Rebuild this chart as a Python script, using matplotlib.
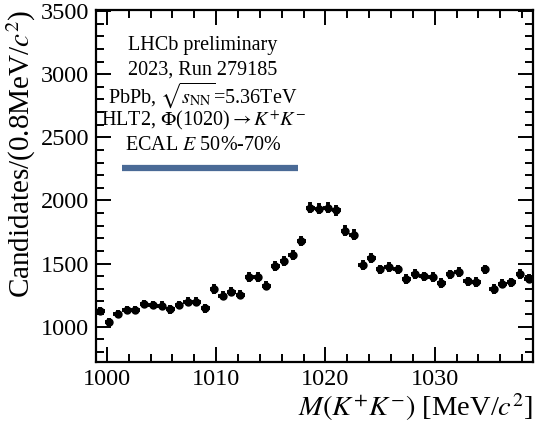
"""
LHCb preliminary phi(1020) -> K+K- mass peak, PbPb 2023.
"""
import numpy as np
import matplotlib
matplotlib.use("Agg")
import matplotlib.pyplot as plt

plt.rcParams["font.family"] = ["Liberation Serif", "STIXGeneral", "DejaVu Serif"]
plt.rcParams["mathtext.fontset"] = "stix"

# binning: 50 bins of 0.8 MeV between 999 and 1039
bin_lo, bin_hi, n_bins = 999.0, 1039.0, 50
counts = [1125, 1040, 1100, 1132, 1132, 1180, 1172, 1167, 1138, 1172,
          1199, 1199, 1146, 1299, 1247, 1279, 1253, 1395, 1395, 1325,
          1480, 1522, 1566, 1681, 1941, 1936, 1943, 1922, 1761, 1729,
          1488, 1542, 1454, 1472, 1454, 1379, 1419, 1400, 1395, 1347,
          1414, 1435, 1360, 1355, 1454, 1299, 1341, 1352, 1419, 1381]

info_lines = [
    "LHCb preliminary",
    "2023, Run 279185",
    r"PbPb, $\sqrt{s_{\rm NN}}$=5.36TeV",
    r"HLT2, $\Phi$(1020)$\rightarrow K^{+}K^{-}$",
    r"ECAL $E$ 50%-70%",
]

edges = np.linspace(bin_lo, bin_hi, n_bins + 1)
centers = 0.5 * (edges[1:] + edges[:-1])
half_width = 0.5 * (edges[1] - edges[0])
y = np.asarray(counts, dtype=float)
yerr = np.sqrt(y)

fig = plt.figure(figsize=(5.39, 4.28), dpi=100)
ax = fig.add_axes([0.178, 0.154, 0.811, 0.823])

ax.errorbar(centers, y, xerr=half_width, yerr=yerr, fmt="o", color="black",
            markersize=5, elinewidth=2.8, capsize=0)

ax.set_xlim(bin_lo, bin_hi)
ax.set_ylim(720, 3510)
ax.set_xticks([1000, 1010, 1020, 1030])
ax.set_yticks([1000, 1500, 2000, 2500, 3000, 3500])
ax.xaxis.set_minor_locator(matplotlib.ticker.MultipleLocator(2))
ax.yaxis.set_minor_locator(matplotlib.ticker.MultipleLocator(100))
ax.tick_params(which="both", direction="in", top=True, right=True,
               labelsize=17.5, width=1.4)
ax.tick_params(which="major", length=11, pad=5)
ax.tick_params(which="minor", length=5.5)
for sp in ax.spines.values():
    sp.set_linewidth(1.6)

ax.set_xlabel(r"$M(K^{+}K^{-})$ [MeV/$c^{2}$]", fontsize=20.5, loc="right",
              labelpad=1)
ax.set_ylabel(r"Candidates/(0.8MeV/$c^{2}$)", fontsize=21, loc="top",
              labelpad=2)

# info block, one text per line
for i, line in enumerate(info_lines):
    ax.text(0.245, 0.900 - 0.0715 * i, line, transform=ax.transAxes,
            ha="center", va="center", fontsize=14.5)

# legend-like bar under the info block
ax.plot([0.059, 0.4615], [0.55, 0.55], transform=ax.transAxes,
        color="#4a6a96", linewidth=4.5, solid_capstyle="butt")

fig.savefig("out.png", dpi=100)
